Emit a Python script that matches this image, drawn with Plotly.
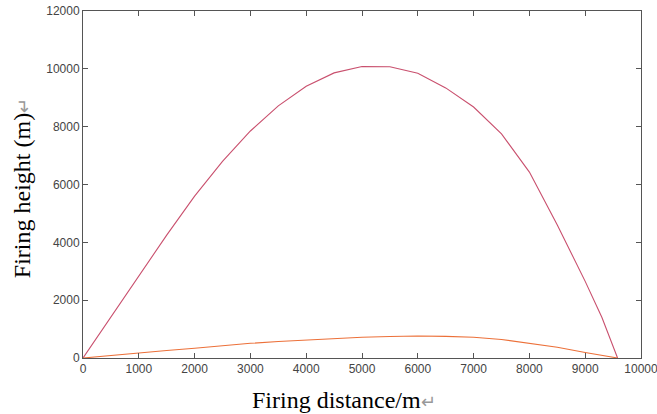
import plotly.graph_objects as go

# trajectories (distance m, height m)
high_x = [0, 500, 1000, 1500, 2000, 2500, 3000, 3500, 4000, 4500, 5000, 5500,
          6000, 6500, 7000, 7500, 8000, 8500, 9000, 9300, 9580]
high_y = [0, 1430, 2850, 4250, 5600, 6800, 7850, 8720, 9400, 9860, 10080, 10070,
          9850, 9340, 8680, 7750, 6430, 4600, 2650, 1400, 0]

low_x = [0, 500, 1000, 1500, 2000, 2500, 3000, 3500, 4000, 4500, 5000, 5500,
         6000, 6500, 7000, 7500, 8000, 8500, 9000, 9300, 9580]
low_y = [0, 95, 183, 260, 335, 425, 508, 570, 622, 675, 715, 745,
         760, 748, 716, 640, 510, 370, 190, 100, 0]

fig = go.Figure()
fig.add_trace(go.Scatter(x=high_x, y=high_y, mode='lines',
                         line=dict(color='#C9506E', width=1.1)))
fig.add_trace(go.Scatter(x=low_x, y=low_y, mode='lines',
                         line=dict(color='#EC7039', width=1.1)))

axis_style = dict(showgrid=False, zeroline=False, showline=True, linecolor='#555555',
                  linewidth=1, mirror='ticks', ticks='inside', ticklen=5,
                  tickcolor='#555555', tickformat='d', automargin=False,
                  ticklabeloverflow='allow',
                  tickfont=dict(family='Liberation Sans, Arial', size=12, color='#444444'))

fig.update_xaxes(range=[0, 10000], dtick=1000, **axis_style)
fig.update_yaxes(range=[0, 12000], dtick=2000, **axis_style)

# axis titles as annotations (the reference has them off-centre)
arrow = "<span style='color:#999999;font-size:18px'>↵</span>"
title_font = dict(family='Liberation Serif, Times New Roman', size=24, color='black')
fig.add_annotation(text='Firing distance/m' + arrow, xref='paper', yref='paper',
                   x=0.468, y=-0.121, xanchor='center', yanchor='middle',
                   showarrow=False, font=title_font)
fig.add_annotation(text='Firing height (m)' + arrow, xref='paper', yref='paper',
                   x=-0.109, y=0.49, xanchor='center', yanchor='middle',
                   textangle=-90, showarrow=False, font=title_font)

fig.update_layout(width=657, height=414, showlegend=False,
                  margin=dict(l=83, r=16, t=11, b=56),
                  plot_bgcolor='white', paper_bgcolor='white')

# drop the default 8px body margin so the figure fills the window
fig.write_html("out.html", config={'displayModeBar': False},
               post_script="document.body.style.margin='0';")
